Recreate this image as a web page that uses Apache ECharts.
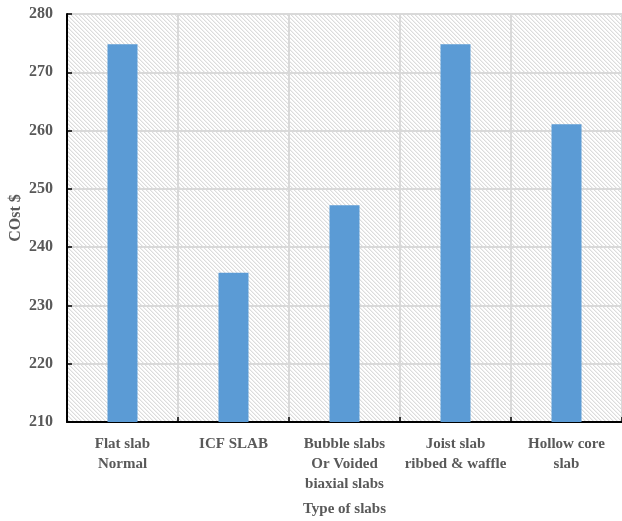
<!DOCTYPE html>
<html>
<head>
<meta charset="utf-8">
<script src="https://cdn.jsdelivr.net/npm/echarts@6/dist/echarts.min.js"></script>
<style>
  html, body { margin: 0; padding: 0; background: #ffffff; }
  #chart { width: 622px; height: 521px; }
</style>
</head>
<body>
<div id="chart"></div>
<script>
// Slab types and their cost
const categories = [
  'Flat slab\nNormal',
  'ICF SLAB',
  'Bubble slabs\nOr Voided\nbiaxial slabs',
  'Joist slab\nribbed & waffle',
  'Hollow core\nslab'
];
const costs = [274.8, 235.6, 247.2, 274.8, 261.1];
const yTicks = { min: 210, max: 280, step: 10 };

// Diagonal hatch tile for the plot background
function hatchTile() {
  const c = document.createElement('canvas');
  c.width = 4; c.height = 4;
  const ctx = c.getContext('2d');
  ctx.fillStyle = '#ffffff';
  ctx.fillRect(0, 0, 4, 4);
  for (let i = 0; i < 4; i++) {
    ctx.fillStyle = '#dcdcdc';
    ctx.fillRect(i, i, 1, 1);
    ctx.fillStyle = '#f0f0f0';
    ctx.fillRect((i + 1) % 4, i, 1, 1);
  }
  return c;
}

const textColor = '#595959';
const serif = '"Liberation Serif", "Times New Roman", serif';

const chart = echarts.init(document.getElementById('chart'), null, { renderer: 'canvas' });
chart.setOption({
  animation: false,
  backgroundColor: '#ffffff',
  grid: {
    left: 67, right: 0, top: 14, bottom: 99,
    containLabel: false,
    outerBoundsMode: 'none',
    show: true,
    borderWidth: 0,
    backgroundColor: { image: hatchTile(), repeat: 'repeat' }
  },
  xAxis: {
    type: 'category',
    data: categories,
    boundaryGap: true,
    name: 'Type of slabs',
    nameLocation: 'middle',
    nameGap: 80,
    nameMoveOverlap: false,
    nameTextStyle: { color: textColor, fontFamily: serif, fontWeight: 'bold', fontSize: 15 },
    axisLine: { lineStyle: { color: '#000000', width: 2 } },
    axisTick: { show: true, inside: true, length: 5, lineStyle: { color: '#000000', width: 1.5 } },
    axisLabel: {
      color: textColor, fontFamily: serif, fontWeight: 'bold', fontSize: 15,
      lineHeight: 20, margin: 12, interval: 0
    },
    splitLine: { show: true, lineStyle: { color: '#d9d9d9', width: 2 } }
  },
  yAxis: {
    type: 'value',
    min: yTicks.min,
    max: yTicks.max,
    interval: yTicks.step,
    name: 'COst $',
    nameLocation: 'middle',
    nameRotate: 90,
    nameGap: 43,
    nameMoveOverlap: false,
    nameTextStyle: { color: textColor, fontFamily: serif, fontWeight: 'bold', fontSize: 16 },
    axisLine: { show: true, lineStyle: { color: '#000000', width: 2 } },
    axisTick: { show: true, inside: true, length: 5, lineStyle: { color: '#000000', width: 1.5 } },
    axisLabel: { color: textColor, fontFamily: serif, fontWeight: 'bold', fontSize: 16, margin: 14 },
    splitLine: { show: true, lineStyle: { color: '#d9d9d9', width: 2 } }
  },
  series: [{
    type: 'bar',
    data: costs,
    barWidth: 30,
    itemStyle: { color: '#5b9bd5' }
  }]
});
</script>
</body>
</html>
